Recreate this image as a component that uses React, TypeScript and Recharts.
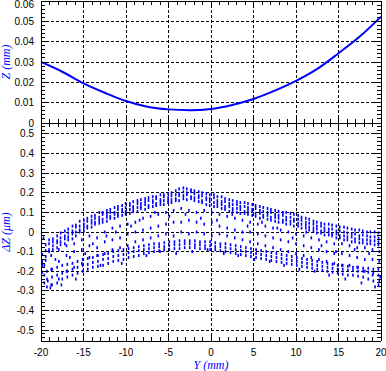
import React from 'react';
import { ComposedChart, Line, Scatter, XAxis, YAxis, ReferenceLine } from 'recharts';

// ---- Top panel: Z (mm) vs Y (mm)
const profileY = [-20, -17.5, -15, -12.5, -10, -7.5, -5, -2.5, 0, 2.5, 5, 7.5, 10, 12.5, 15, 17.5, 20];
const profileZ = [0.03, 0.0252, 0.0195, 0.0149, 0.0108, 0.008, 0.0067, 0.0063, 0.0069, 0.0089, 0.0118, 0.0159, 0.0207, 0.0266, 0.0343, 0.0425, 0.0523];

// ---- Bottom panel: ΔZ scatter, rows of [Y, ΔZ values...]
const upperBand: number[][] = [
  [-19.85, -0.115, -0.15, -0.17, -0.205], [-19.45, -0.065, -0.095, -0.125, -0.145], [-19.05, -0.04, -0.06, -0.09, -0.1],
  [-18.6, -0.035, -0.05, -0.07, -0.09], [-18.1, -0.02, -0.045, -0.055, -0.08], [-17.7, -0.005, -0.03, -0.05, -0.065],
  [-17.2, 0.005, -0.02, -0.035, -0.06], [-16.8, 0.015, -0.005, -0.025, -0.04], [-16.3, 0.03, 0.005, -0.01, -0.035],
  [-15.9, 0.035, 0.025, 0.0, -0.02], [-15.45, 0.055, 0.03, 0.01, 0.0], [-14.95, 0.06, 0.04, 0.025, 0.005],
  [-14.55, 0.07, 0.055, 0.03, 0.02], [-14.05, 0.08, 0.06, 0.045, 0.025], [-13.65, 0.085, 0.07, 0.05, 0.04],
  [-13.15, 0.1, 0.075, 0.06, 0.045], [-12.75, 0.1, 0.09, 0.065, 0.05], [-12.25, 0.11, 0.09, 0.075, 0.055],
  [-11.85, 0.115, 0.1, 0.08, 0.07], [-11.35, 0.125, 0.1, 0.09, 0.07], [-10.95, 0.13, 0.115, 0.09, 0.08],
  [-10.45, 0.135, 0.115, 0.105, 0.085], [-10.05, 0.145, 0.125, 0.105, 0.09], [-9.55, 0.145, 0.135, 0.115, 0.095],
  [-9.15, 0.155, 0.13, 0.12, 0.105], [-8.65, 0.16, 0.145, 0.125, 0.105], [-8.25, 0.165, 0.145, 0.13, 0.12],
  [-7.75, 0.17, 0.155, 0.14, 0.115], [-7.35, 0.175, 0.16, 0.135, 0.125], [-6.85, 0.18, 0.16, 0.15, 0.13],
  [-6.45, 0.18, 0.17, 0.145, 0.135], [-5.95, 0.19, 0.165, 0.155, 0.14], [-5.55, 0.19, 0.18, 0.16, 0.14],
  [-5.05, 0.195, 0.175, 0.16, 0.15], [-4.65, 0.2, 0.185, 0.165, 0.15], [-4.15, 0.21, 0.19, 0.17, 0.16],
  [-3.75, 0.22, 0.195, 0.185, 0.16], [-3.25, 0.225, 0.205, 0.185, 0.17], [-2.85, 0.22, 0.2, 0.19, 0.165],
  [-2.35, 0.215, 0.205, 0.18, 0.17], [-1.95, 0.21, 0.195, 0.175, 0.16], [-1.45, 0.205, 0.185, 0.175, 0.155],
  [-1.05, 0.2, 0.185, 0.16, 0.15], [-0.55, 0.195, 0.175, 0.165, 0.14], [-0.15, 0.19, 0.17, 0.155, 0.135],
  [0.35, 0.19, 0.175, 0.15, 0.13], [0.75, 0.18, 0.16, 0.145, 0.13], [1.25, 0.18, 0.155, 0.14, 0.12],
  [1.65, 0.17, 0.155, 0.13, 0.115], [2.15, 0.165, 0.145, 0.13, 0.105], [2.55, 0.16, 0.14, 0.12, 0.11],
  [3.05, 0.155, 0.14, 0.12, 0.1], [3.45, 0.15, 0.13, 0.115, 0.095], [3.95, 0.15, 0.13, 0.105, 0.095],
  [4.35, 0.145, 0.125, 0.11, 0.09], [4.85, 0.14, 0.115, 0.105, 0.085], [5.25, 0.135, 0.12, 0.095, 0.08],
  [5.75, 0.13, 0.11, 0.095, 0.07], [6.15, 0.125, 0.105, 0.085, 0.075], [6.65, 0.12, 0.1, 0.085, 0.065],
  [7.05, 0.115, 0.1, 0.075, 0.06], [7.55, 0.11, 0.09, 0.075, 0.055], [7.95, 0.105, 0.085, 0.07, 0.05],
  [8.45, 0.1, 0.085, 0.06, 0.05], [8.85, 0.1, 0.075, 0.06, 0.04], [9.35, 0.095, 0.075, 0.055, 0.04],
  [9.75, 0.09, 0.065, 0.055, 0.03], [10.25, 0.085, 0.065, 0.045, 0.03], [10.65, 0.075, 0.06, 0.04, 0.02],
  [11.15, 0.07, 0.05, 0.035, 0.02], [11.55, 0.065, 0.045, 0.025, 0.01], [12.05, 0.055, 0.04, 0.02, 0.005],
  [12.45, 0.05, 0.03, 0.015, -0.005], [12.95, 0.045, 0.03, 0.005, -0.005], [13.35, 0.04, 0.02, 0.005, -0.015],
  [13.85, 0.04, 0.015, 0.0, -0.015], [14.25, 0.035, 0.015, -0.01, -0.02], [14.75, 0.03, 0.005, -0.01, -0.03],
  [15.15, 0.025, 0.005, -0.02, -0.03], [15.65, 0.025, 0.0, -0.02, -0.04], [16.05, 0.02, -0.005, -0.025, -0.04],
  [16.55, 0.015, -0.01, -0.025, -0.05], [16.95, 0.01, -0.01, -0.035, -0.05], [17.45, 0.01, -0.02, -0.035, -0.055],
  [17.85, 0.005, -0.015, -0.04, -0.055], [18.35, 0.0, -0.02, -0.04, -0.06], [18.75, 0.0, -0.025, -0.045, -0.06],
  [19.25, 0.0, -0.025, -0.045, -0.065], [19.7, -0.005, -0.03, -0.05, -0.065],
];

const middleBand: number[][] = [
  [-19.6, -0.17, -0.22, -0.26], [-18.8, -0.12, -0.19, -0.27], [-17.9, -0.09, -0.15, -0.24], [-17.0, -0.07, -0.12, -0.2],
  [-16.1, -0.06, -0.1, -0.18], [-15.2, -0.04, -0.09, -0.16], [-14.3, -0.02, -0.07, -0.13], [-13.4, -0.03, -0.08, -0.12],
  [-12.5, 0.0, -0.05, -0.11], [-11.6, 0.02, -0.04, -0.09], [-10.7, 0.03, -0.03, -0.08], [-9.8, 0.04, -0.01, -0.07],
  [-8.9, 0.05, 0.0, -0.05], [-8.0, 0.07, 0.01, -0.04], [-7.1, 0.08, 0.02, -0.03], [-6.2, 0.09, 0.03, -0.02],
  [-5.3, 0.1, 0.04, -0.01], [-4.4, 0.11, 0.05, -0.02], [-3.5, 0.12, 0.05, 0.0], [-2.6, 0.11, 0.06, -0.01],
  [-1.7, 0.1, 0.05, 0.0], [-0.8, 0.11, 0.04, -0.01], [0.1, 0.1, 0.05, -0.02], [1.0, 0.09, 0.03, -0.01],
  [1.9, 0.08, 0.02, -0.02], [2.8, 0.07, 0.01, -0.03], [3.7, 0.06, 0.0, -0.04], [4.6, 0.05, 0.0, -0.05],
  [5.5, 0.04, -0.01, -0.06], [6.4, 0.03, -0.02, -0.07], [7.3, 0.02, -0.03, -0.08], [8.2, 0.01, -0.04, -0.09],
  [9.1, 0.0, -0.05, -0.1], [10.0, -0.01, -0.06, -0.11], [10.9, -0.02, -0.07, -0.12], [11.8, -0.03, -0.08, -0.13],
  [12.7, -0.04, -0.09, -0.14], [13.6, -0.05, -0.1, -0.15], [14.5, -0.06, -0.11, -0.16], [15.4, -0.06, -0.11, -0.17],
  [16.3, -0.07, -0.12, -0.17], [17.2, -0.08, -0.13, -0.18], [18.1, -0.08, -0.14, -0.2], [19.0, -0.09, -0.14, -0.22],
  [19.8, -0.1, -0.15, -0.25],
];

const lowerBand: number[][] = [
  [-19.3, -0.2, -0.24, -0.28], [-18.7, -0.19, -0.23, -0.27], [-18.1, -0.18, -0.22, -0.26], [-17.5, -0.17, -0.21, -0.24],
  [-16.9, -0.165, -0.2, -0.23], [-16.3, -0.16, -0.19, -0.22], [-15.7, -0.15, -0.18, -0.21], [-15.1, -0.14, -0.17, -0.2],
  [-14.5, -0.135, -0.165, -0.19], [-13.9, -0.13, -0.155, -0.18], [-13.3, -0.12, -0.15, -0.175], [-12.7, -0.115, -0.14, -0.17],
  [-12.1, -0.11, -0.135, -0.16], [-11.5, -0.1, -0.125, -0.15], [-10.9, -0.095, -0.12, -0.145], [-10.3, -0.09, -0.115, -0.14],
  [-9.7, -0.085, -0.105, -0.13], [-9.1, -0.08, -0.1, -0.125], [-8.5, -0.075, -0.095, -0.12], [-7.9, -0.07, -0.09, -0.11],
  [-7.3, -0.065, -0.085, -0.105], [-6.7, -0.06, -0.08, -0.1], [-6.1, -0.06, -0.075, -0.095], [-5.5, -0.055, -0.075, -0.09],
  [-4.9, -0.05, -0.07, -0.09], [-4.3, -0.05, -0.065, -0.085], [-3.7, -0.045, -0.065, -0.085], [-3.1, -0.045, -0.06, -0.08],
  [-2.5, -0.045, -0.06, -0.08], [-1.9, -0.045, -0.065, -0.08], [-1.3, -0.05, -0.065, -0.085], [-0.7, -0.05, -0.07, -0.085],
  [-0.1, -0.05, -0.07, -0.09], [0.5, -0.055, -0.075, -0.09], [1.1, -0.06, -0.075, -0.095], [1.7, -0.06, -0.08, -0.1],
  [2.3, -0.065, -0.085, -0.105], [2.9, -0.07, -0.09, -0.11], [3.5, -0.075, -0.095, -0.115], [4.1, -0.08, -0.1, -0.12],
  [4.7, -0.085, -0.105, -0.125], [5.3, -0.09, -0.11, -0.13], [5.9, -0.095, -0.115, -0.135], [6.5, -0.1, -0.12, -0.14],
  [7.1, -0.105, -0.125, -0.145], [7.7, -0.11, -0.13, -0.15], [8.3, -0.115, -0.135, -0.155], [8.9, -0.12, -0.14, -0.16],
  [9.5, -0.125, -0.145, -0.165], [10.1, -0.13, -0.15, -0.17], [10.7, -0.135, -0.155, -0.175], [11.3, -0.14, -0.16, -0.18],
  [11.9, -0.145, -0.165, -0.185], [12.5, -0.15, -0.17, -0.19], [13.1, -0.155, -0.175, -0.195], [13.7, -0.16, -0.18, -0.2],
  [14.3, -0.165, -0.185, -0.205], [14.9, -0.17, -0.19, -0.21], [15.5, -0.17, -0.19, -0.215], [16.1, -0.175, -0.195, -0.22],
  [16.7, -0.18, -0.195, -0.22], [17.3, -0.18, -0.2, -0.225], [17.9, -0.185, -0.2, -0.23], [18.5, -0.185, -0.205, -0.24],
  [19.1, -0.19, -0.21, -0.25], [19.7, -0.19, -0.22, -0.27],
];

// scattered stray points [Y, ΔZ]
const strayPoints: number[][] = [
  [-19.7, -0.03], [-19.2, -0.25], [-18.9, -0.285], [-18.3, -0.14], [-17.6, -0.27], [-16.6, -0.13], [-15.9, -0.24],
  [-14.8, -0.11], [-13.9, -0.06], [-13.0, -0.17], [-12.3, -0.02], [-11.2, 0.0], [-10.5, -0.16], [-9.4, 0.03],
  [-8.4, 0.06], [-7.6, -0.12], [-6.6, 0.1], [-6.0, -0.1], [-4.9, 0.08], [-4.1, -0.11], [-3.0, 0.09], [-2.2, -0.1],
  [-1.2, 0.07], [-0.4, -0.09], [0.7, 0.06], [1.5, -0.11], [2.5, 0.09], [3.2, -0.12], [4.3, 0.03], [5.1, -0.14],
  [6.0, 0.05], [6.9, -0.15], [7.8, 0.02], [8.6, -0.17], [9.6, -0.03], [10.4, -0.19], [11.2, 0.0], [12.2, -0.2],
  [13.0, -0.07], [13.9, -0.22], [14.7, -0.1], [15.8, -0.24], [16.9, -0.09], [17.7, -0.26], [18.6, -0.11],
  [19.3, -0.28], [19.9, -0.23],
];

// ---- Axis ticks / labels
const xMajor = [-20, -15, -10, -5, 0, 5, 10, 15, 20];
const topYMajor = [0, 0.01, 0.02, 0.03, 0.04, 0.05, 0.06];
const botYMajor = [-0.5, -0.4, -0.3, -0.2, -0.1, 0, 0.1, 0.2, 0.3, 0.4, 0.5];
const xTitle = 'Y (mm)';
const topYTitle = 'Z (mm)';
const botYTitle = 'ΔZ (μm)';

const BLUE = '#0000ff';
const FONT = '"Liberation Sans", Arial, sans-serif';
const TFONT = '"Liberation Serif", "Times New Roman", serif';

const profile = profileY.map((y, i) => ({ y, z: profileZ[i] }));
const toPoints = (rows: number[][]) => rows.flatMap(([y, ...vals]) => vals.map((dz) => ({ y, dz })));
const upperPts = toPoints(upperBand);
const middlePts = toPoints(middleBand);
const lowerPts = toPoints(lowerBand);
const strayPts = toPoints(strayPoints);

const xTicks = Array.from({ length: 41 }, (_, i) => i - 20);
const topYTicks = Array.from({ length: 31 }, (_, i) => Number((i * 0.002).toFixed(3)));
const botYTicks = Array.from({ length: 55 }, (_, i) => Number((-0.54 + i * 0.02).toFixed(2)));

const isMajor = (v: number, list: number[]) => list.some((m) => Math.abs(m - v) < 1e-9);

function XTick(props: any) {
  const { x, y, payload, dir, labels } = props;
  const v = payload.value;
  const major = isMajor(v, xMajor);
  const len = major ? 7 : 4;
  return (
    <g>
      <line x1={x} x2={x} y1={y} y2={y + dir * len} stroke="#000" strokeWidth={1} shapeRendering="crispEdges" />
      {labels && major ? (
        <text x={x} y={y + 14.5} textAnchor="middle" fontSize={10} fontFamily={FONT} fill="#000">{v}</text>
      ) : null}
    </g>
  );
}

function YTick(props: any) {
  const { x, y, payload, dir, labels, majors } = props;
  const v = payload.value;
  const major = isMajor(v, majors);
  const len = major ? 7 : 4;
  return (
    <g>
      <line x1={x} x2={x + dir * len} y1={y} y2={y} stroke="#000" strokeWidth={1} shapeRendering="crispEdges" />
      {labels && major ? (
        <text x={x - 7} y={Math.max(y, 4)} dy="0.35em" textAnchor="end" fontSize={10} fontFamily={FONT} fill="#000">{String(v)}</text>
      ) : null}
    </g>
  );
}

const dot = (p: any) => (
  <rect x={p.cx - 0.8} y={p.cy - 1.5} width={1.6} height={3} fill={BLUE} />
);

const axisLine = { stroke: '#000', strokeWidth: 1, shapeRendering: 'crispEdges' } as any;
const gridProps = { stroke: '#000', strokeWidth: 1, strokeDasharray: '3 2', shapeRendering: 'crispEdges' } as any;

const W = 386;
const H = 371;

export default function App() {
  return (
    <div style={{ position: 'absolute', left: 0, top: 0, width: W, height: H, background: '#fff' }}>
      <div style={{ position: 'absolute', left: 0, top: 0 }}>
        <ComposedChart width={W} height={H} data={profile} margin={{ top: 0, right: 4, bottom: 247, left: 40 }}>
          <XAxis xAxisId={0} dataKey="y" type="number" domain={[-20, 20]} allowDataOverflow ticks={xTicks} interval={0}
            height={1} tickSize={0} tickMargin={0} axisLine={axisLine} tickLine={false}
            tick={(p: any) => <XTick {...p} dir={-1} labels={false} />} />
          <XAxis xAxisId="t" orientation="top" dataKey="y" type="number" domain={[-20, 20]} allowDataOverflow ticks={xTicks} interval={0}
            height={1} tickSize={0} tickMargin={0} axisLine={axisLine} tickLine={false}
            tick={(p: any) => <XTick {...p} dir={1} labels={false} />} />
          <YAxis yAxisId={0} type="number" domain={[0, 0.06]} allowDataOverflow ticks={topYTicks} interval={0}
            width={1} tickSize={0} tickMargin={0} axisLine={axisLine} tickLine={false}
            tick={(p: any) => <YTick {...p} dir={1} labels majors={topYMajor} />} />
          <YAxis yAxisId="r" orientation="right" type="number" domain={[0, 0.06]} allowDataOverflow ticks={topYTicks} interval={0}
            width={1} tickSize={0} tickMargin={0} axisLine={axisLine} tickLine={false}
            tick={(p: any) => <YTick {...p} dir={-1} labels={false} majors={topYMajor} />} />
          {xMajor.slice(1, -1).map((v) => (
            <ReferenceLine key={'tx' + v} x={v} {...gridProps} />
          ))}
          {topYMajor.slice(1, -1).map((v) => (
            <ReferenceLine key={'ty' + v} y={v} {...gridProps} />
          ))}
          <Line dataKey="z" type="monotone" stroke={BLUE} strokeWidth={2} dot={false} isAnimationActive={false} />
          <text x={10} y={62} transform="rotate(-90 10 62)" textAnchor="middle" fontSize={12} fontStyle="italic"
            fontFamily={TFONT} fill={BLUE}>{topYTitle}</text>
        </ComposedChart>
      </div>
      <div style={{ position: 'absolute', left: 0, top: 0 }}>
        <ComposedChart width={W} height={H} margin={{ top: 122, right: 4, bottom: 29, left: 40 }}>
          <XAxis xAxisId={0} dataKey="y" type="number" domain={[-20, 20]} allowDataOverflow ticks={xTicks} interval={0}
            height={1} tickSize={0} tickMargin={0} axisLine={axisLine} tickLine={false}
            tick={(p: any) => <XTick {...p} dir={-1} labels />} />
          <XAxis xAxisId="t" orientation="top" dataKey="y" type="number" domain={[-20, 20]} allowDataOverflow ticks={xTicks} interval={0}
            height={1} tickSize={0} tickMargin={0} axisLine={axisLine} tickLine={false}
            tick={(p: any) => <XTick {...p} dir={1} labels={false} />} />
          <YAxis yAxisId={0} dataKey="dz" type="number" domain={[-0.556, 0.556]} allowDataOverflow ticks={botYTicks} interval={0}
            width={1} tickSize={0} tickMargin={0} axisLine={axisLine} tickLine={false}
            tick={(p: any) => <YTick {...p} dir={1} labels majors={botYMajor} />} />
          <YAxis yAxisId="r" orientation="right" dataKey="dz" type="number" domain={[-0.556, 0.556]} allowDataOverflow ticks={botYTicks} interval={0}
            width={1} tickSize={0} tickMargin={0} axisLine={axisLine} tickLine={false}
            tick={(p: any) => <YTick {...p} dir={-1} labels={false} majors={botYMajor} />} />
          {xMajor.slice(1, -1).map((v) => (
            <ReferenceLine key={'bx' + v} x={v} {...gridProps} />
          ))}
          {botYMajor.map((v) => (
            <ReferenceLine key={'by' + v} y={v} {...gridProps} />
          ))}
          <Scatter data={upperPts} dataKey="dz" shape={dot} isAnimationActive={false} />
          <Scatter data={middlePts} dataKey="dz" shape={dot} isAnimationActive={false} />
          <Scatter data={lowerPts} dataKey="dz" shape={dot} isAnimationActive={false} />
          <Scatter data={strayPts} dataKey="dz" shape={dot} isAnimationActive={false} />
          <text x={10} y={232} transform="rotate(-90 10 232)" textAnchor="middle" fontSize={12} fontStyle="italic"
            fontFamily={TFONT} fill={BLUE}>{botYTitle}</text>
          <text x={211} y={368.5} textAnchor="middle" fontSize={12} fontStyle="italic" fontFamily={TFONT} fill={BLUE}>{xTitle}</text>
        </ComposedChart>
      </div>
    </div>
  );
}
